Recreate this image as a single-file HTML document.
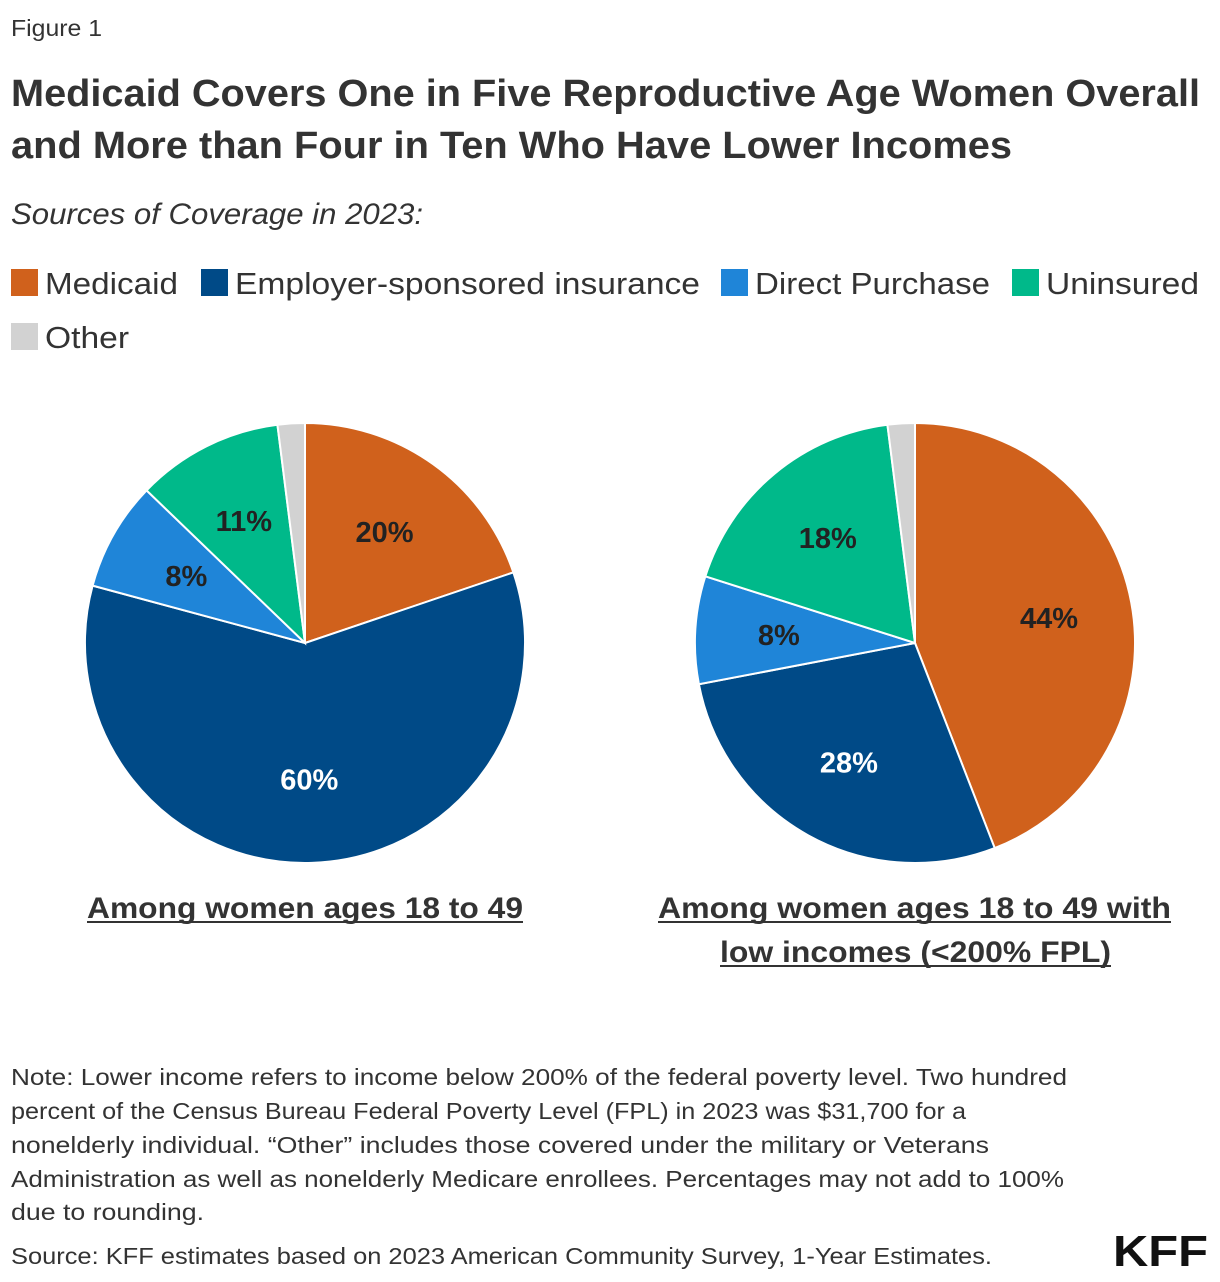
<!DOCTYPE html>
<html><head><meta charset="utf-8"><style>
html,body{margin:0;padding:0;background:#fff;}
svg{display:block;font-family:"Liberation Sans",sans-serif;}
</style></head><body>
<svg id="chart" width="1220" height="1282" viewBox="0 0 1220 1282" xmlns="http://www.w3.org/2000/svg">
<text x="11" y="36" font-size="23" fill="#333" textLength="91" lengthAdjust="spacingAndGlyphs">Figure 1</text>
<text x="11" y="106" font-size="38" font-weight="bold" fill="#333" textLength="1189" lengthAdjust="spacingAndGlyphs">Medicaid Covers One in Five Reproductive Age Women Overall</text>
<text x="11" y="158" font-size="38" font-weight="bold" fill="#333" textLength="1001" lengthAdjust="spacingAndGlyphs">and More than Four in Ten Who Have Lower Incomes</text>
<text x="11" y="224" font-size="30" font-style="italic" fill="#333" textLength="412" lengthAdjust="spacingAndGlyphs">Sources of Coverage in 2023:</text>
<g id="legend"></g>
<g id="pies"></g>
<text x="87" y="918" font-size="30" font-weight="bold" fill="#333" textLength="436" lengthAdjust="spacingAndGlyphs">Among women ages 18 to 49</text>
<line x1="87" y1="922" x2="523" y2="922" stroke="#333" stroke-width="2"/>
<text x="658" y="918" font-size="30" font-weight="bold" fill="#333" textLength="513" lengthAdjust="spacingAndGlyphs">Among women ages 18 to 49 with</text>
<line x1="658" y1="922" x2="1171" y2="922" stroke="#333" stroke-width="2"/>
<text x="720" y="962" font-size="30" font-weight="bold" fill="#333" textLength="391" lengthAdjust="spacingAndGlyphs">low incomes (&lt;200% FPL)</text>
<line x1="720" y1="966" x2="1111" y2="966" stroke="#333" stroke-width="2"/>
<g font-size="23" fill="#333">
<text x="11" y="1085" textLength="1056" lengthAdjust="spacingAndGlyphs">Note: Lower income refers to income below 200% of the federal poverty level. Two hundred</text>
<text x="11" y="1119" textLength="955" lengthAdjust="spacingAndGlyphs">percent of the Census Bureau Federal Poverty Level (FPL) in 2023 was $31,700 for a</text>
<text x="11" y="1153" textLength="978" lengthAdjust="spacingAndGlyphs">nonelderly individual. “Other” includes those covered under the military or Veterans</text>
<text x="11" y="1187" textLength="1053" lengthAdjust="spacingAndGlyphs">Administration as well as nonelderly Medicare enrollees. Percentages may not add to 100%</text>
<text x="11" y="1220" textLength="193" lengthAdjust="spacingAndGlyphs">due to rounding.</text>
</g>
<text x="11" y="1264" font-size="23" fill="#333" textLength="981" lengthAdjust="spacingAndGlyphs">Source: KFF estimates based on 2023 American Community Survey, 1-Year Estimates.</text>
<text x="1113" y="1266" font-size="44" font-weight="bold" fill="#111" textLength="95" lengthAdjust="spacingAndGlyphs">KFF</text>
</svg>
<script>
const categories = ["Medicaid","Employer-sponsored insurance","Direct Purchase","Uninsured","Other"];
const colors = ["#d0611c","#004a87","#1f85d8","#00b98a","#d2d2d2"];
const allWomenValues = [19.8, 59.4, 8.0, 10.8, 2.0];
const lowIncomeValues = [44.1, 27.9, 7.9, 18.1, 2.0];
const allWomenLabels = ["20%","60%","8%","11%",""];
const lowIncomeLabels = ["44%","28%","8%","18%",""];
const labelColors = ["#222","#fff","#222","#222","#222"];
const NS = "http://www.w3.org/2000/svg";

const legend = document.getElementById('legend');
const legendPos = [[11,283,133],[201,283,465],[721,283,235],[1012,283,153],[11,337,84]];
categories.forEach((c,i)=>{
  const g = document.createElementNS(NS,'g');
  
  
  const [x,y,w] = legendPos[i];
  const r = document.createElementNS(NS,'rect');
  r.setAttribute('x',x); r.setAttribute('y',y-14); r.setAttribute('width',27); r.setAttribute('height',27);
  r.setAttribute('fill',colors[i]);
  const t = document.createElementNS(NS,'text');
  t.setAttribute('x',x+34); t.setAttribute('y',y+11); t.setAttribute('font-size','31'); t.setAttribute('fill','#333');
  t.setAttribute('textLength',w); t.setAttribute('lengthAdjust','spacingAndGlyphs');
  t.textContent = c;
  g.appendChild(r); g.appendChild(t); legend.appendChild(g);
});

function drawPie(cx, cy, R, values, labels, name){
  const pies = document.getElementById('pies');
  const g = document.createElementNS(NS,'g');
  
  
  const total = values.reduce((a,b)=>a+b,0);
  let acc = 0;
  const pt = (frac, r)=>{const a = frac*2*Math.PI; return [cx + r*Math.sin(a), cy - r*Math.cos(a)];};
  values.forEach((v,i)=>{
    const f0 = acc/total, f1 = (acc+v)/total; acc += v;
    const [x0,y0] = pt(f0,R), [x1,y1] = pt(f1,R);
    const p = document.createElementNS(NS,'path');
    p.setAttribute('d', `M${cx},${cy} L${x0},${y0} A${R},${R} 0 ${(f1-f0)>0.5?1:0} 1 ${x1},${y1} Z`);
    p.setAttribute('fill', colors[i]); p.setAttribute('stroke','#fff'); p.setAttribute('stroke-width','2');
    
    
    g.appendChild(p);
    if(labels[i]){
      const [lx,ly] = pt((f0+f1)/2, R*0.62);
      const t = document.createElementNS(NS,'text');
      t.setAttribute('x',lx); t.setAttribute('y',ly+10);
      t.setAttribute('text-anchor','middle'); t.setAttribute('font-size','29'); t.setAttribute('font-weight','bold');
      t.setAttribute('fill', labelColors[i]);
      
      
      t.textContent = labels[i];
      g.appendChild(t);
    }
  });
  pies.appendChild(g);
}
drawPie(305, 643, 220, allWomenValues, allWomenLabels, 'pie-all-women');
drawPie(915, 643, 220, lowIncomeValues, lowIncomeLabels, 'pie-low-income');
</script>
</body></html>
